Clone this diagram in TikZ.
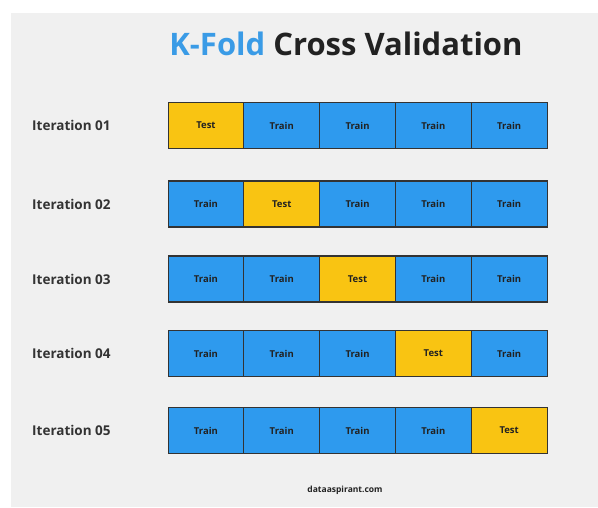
\documentclass[tikz,border=0pt]{standalone}
\usepackage{fontspec}
\setmainfont{Open Sans}
\definecolor{panel}{HTML}{F0F0F0}
\definecolor{trainc}{HTML}{2E9AEE}
\definecolor{testc}{HTML}{F9C412}
\definecolor{titleblue}{HTML}{3A9BE6}
\definecolor{ink}{HTML}{222222}
\definecolor{edge}{HTML}{333333}
\tikzset{
  fold/.style={draw=edge, line width=1.1pt, minimum width=75.8pt, minimum height=46pt,
    inner sep=0pt, font=\fontsize{9.5}{11}\selectfont\bfseries, text=ink, anchor=west},
  trainbox/.style={fold, fill=trainc},
  testbox/.style={fold, fill=testc},
  iterlabel/.style={anchor=west, inner sep=0pt, font=\fontsize{13.5}{15}\selectfont\bfseries, text=edge},
}
\begin{document}
\begin{tikzpicture}[x=1pt,y=1pt]
\useasboundingbox (0,0) rectangle (598,507);
\fill[white] (0,0) rectangle (598,507);
\fill[panel] (11,0) rectangle (598,494);
\node[inner sep=0pt, font=\fontsize{31}{36}\selectfont\bfseries] (title) at (346,463)
  {\textcolor{titleblue}{K-Fold} \textcolor{ink}{Cross Validation}};
\foreach \r/\y/\t in {1/381.5/1, 2/303/2, 3/228/3, 4/153.5/4, 5/76.5/5} {
  \node[iterlabel] (lab\r) at (32,\y) {Iteration 0\r};
  \foreach \c in {1,...,5} {
    \pgfmathsetmacro{\xx}{167.5+(\c-1)*75.8}
    \ifnum\c=\t
      \node[testbox] (b\r\c) at (\xx,\y) {Test};
    \else
      \node[trainbox] (b\r\c) at (\xx,\y) {Train};
    \fi
  }
}
\node[inner sep=0pt, font=\fontsize{8.5}{10}\selectfont\bfseries, text=ink] (foot) at (345,17) {dataaspirant.com};
\end{tikzpicture}
\end{document}
